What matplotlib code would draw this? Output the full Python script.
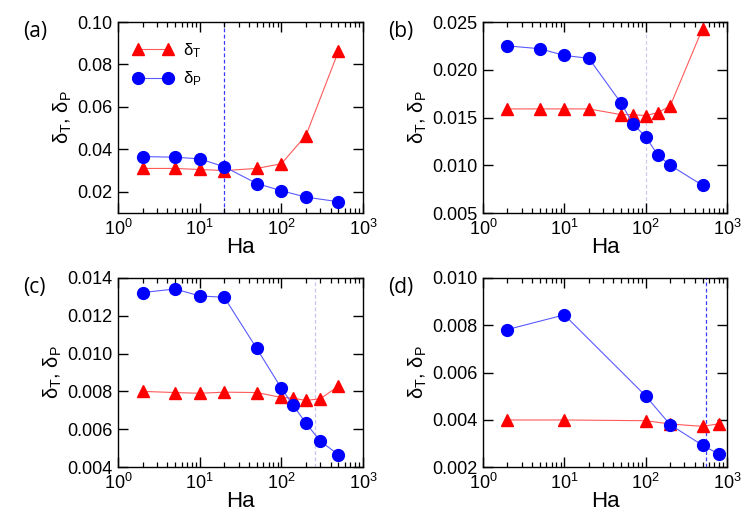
import matplotlib
matplotlib.use("Agg")
import matplotlib.pyplot as plt
from matplotlib.ticker import LogLocator, NullFormatter, FixedLocator

plt.rcParams['font.family'] = ['Liberation Sans', 'DejaVu Sans']
plt.rcParams['mathtext.fontset'] = 'custom'
plt.rcParams['mathtext.rm'] = 'Liberation Sans'
plt.rcParams['mathtext.it'] = 'Liberation Sans'
plt.rcParams['mathtext.default'] = 'regular'

# ---- data ----
ha_a = [2, 5, 10, 20, 50, 100, 200, 500]
dT_a = [0.0310, 0.0310, 0.0305, 0.0300, 0.0310, 0.0332, 0.0465, 0.0862]
dP_a = [0.0366, 0.0363, 0.0355, 0.0318, 0.0239, 0.0205, 0.0175, 0.0153]
vline_a = 20

ha_b = [2, 5, 10, 20, 50, 70, 100, 140, 200, 500]
dT_b = [0.0159, 0.0159, 0.0159, 0.0159, 0.0153, 0.0153, 0.0152, 0.0155, 0.0162, 0.0243]
dP_b = [0.0225, 0.0222, 0.0215, 0.0212, 0.0165, 0.0143, 0.0130, 0.0111, 0.0100, 0.0079]
vline_b = 100

ha_c = [2, 5, 10, 20, 50, 100, 140, 200, 300, 500]
dT_c = [0.00800, 0.00794, 0.00790, 0.00796, 0.00794, 0.00768, 0.00764, 0.00752, 0.00761, 0.00828]
dP_c = [0.01323, 0.01342, 0.01305, 0.01298, 0.01027, 0.00817, 0.00726, 0.00632, 0.00537, 0.00465]
vline_c = 260

ha_d = [2, 10, 100, 200, 500, 800]
dT_d = [0.00399, 0.00399, 0.00396, 0.00382, 0.00372, 0.00383]
dP_d = [0.00782, 0.00844, 0.00501, 0.00379, 0.00292, 0.00254]
vline_d = 550

ylims = [(0.01, 0.10), (0.005, 0.025), (0.004, 0.014), (0.002, 0.010)]
yticks = [[0.02, 0.04, 0.06, 0.08, 0.10],
          [0.005, 0.010, 0.015, 0.020, 0.025],
          [0.004, 0.006, 0.008, 0.010, 0.012, 0.014],
          [0.002, 0.004, 0.006, 0.008, 0.010]]
yfmt = ['{:.2f}', '{:.3f}', '{:.3f}', '{:.3f}']
panel_labels = ['(a)', '(b)', '(c)', '(d)']
vline_colors = ['#3a3aff', '#cacaf2', '#c4c4f0', '#3a3aff']

fig = plt.figure(figsize=(7.47, 5.29), dpi=100)
W, H = 747, 529
boxes = [(118, 22, 363, 213), (483, 22, 727, 213), (118, 278, 363, 467), (483, 278, 727, 467)]
datasets = [(ha_a, dT_a, dP_a, vline_a), (ha_b, dT_b, dP_b, vline_b),
            (ha_c, dT_c, dP_c, vline_c), (ha_d, dT_d, dP_d, vline_d)]

for i, ((l, t, r, b), (ha, dT, dP, vl)) in enumerate(zip(boxes, datasets)):
    ax = fig.add_axes([l / W, 1 - b / H, (r - l) / W, (b - t) / H])
    ax.set_xscale('log')
    ax.set_xlim(1, 1000)
    ax.set_ylim(*ylims[i])
    ax.axvline(vl, color=vline_colors[i], ls='--', lw=0.9, dashes=(3, 2), zorder=1)
    ax.plot(ha, dT, color='#ff5a5a', lw=0.8, marker='^', ms=8.5, mfc='#ff0000',
            mec='#ff0000', label=r'$\delta_T$', zorder=3)
    ax.plot(ha, dP, color='#5a5aff', lw=0.8, marker='o', ms=8.5, mfc='#0000ff',
            mec='#0000ff', label=r'$\delta_P$', zorder=4)
    ax.yaxis.set_major_locator(FixedLocator(yticks[i]))
    ax.set_yticklabels([yfmt[i].format(v) for v in yticks[i]])
    ax.xaxis.set_major_locator(LogLocator(base=10, numticks=10))
    ax.xaxis.set_minor_locator(LogLocator(base=10, subs=range(2, 10), numticks=20))
    ax.xaxis.set_minor_formatter(NullFormatter())
    ax.tick_params(which='major', direction='in', length=7, width=1, top=True, right=True,
                   labelsize=13, pad=4)
    ax.tick_params(which='minor', direction='in', length=3.5, width=0.9, top=True, right=True)
    for s in ax.spines.values():
        s.set_linewidth(1.0)
    ax.set_xlabel('Ha', fontsize=16, labelpad=-1)
    ax.set_ylabel(r'$\delta_T$, $\delta_P$', fontsize=14.5, labelpad=2)
    fig.text((l - 95) / W, 1 - (t + 10) / H, panel_labels[i], fontsize=15,
             family=['Open Sans', 'DejaVu Sans'], va='center', ha='left')
    if i == 0:
        ax.legend(loc='upper left', numpoints=2, frameon=False, fontsize=12,
                  handlelength=2.4, borderaxespad=0.5, labelspacing=0.6,
                  handletextpad=0.6, bbox_to_anchor=(0.0, 0.98))

fig.savefig('out.png', dpi=100)
